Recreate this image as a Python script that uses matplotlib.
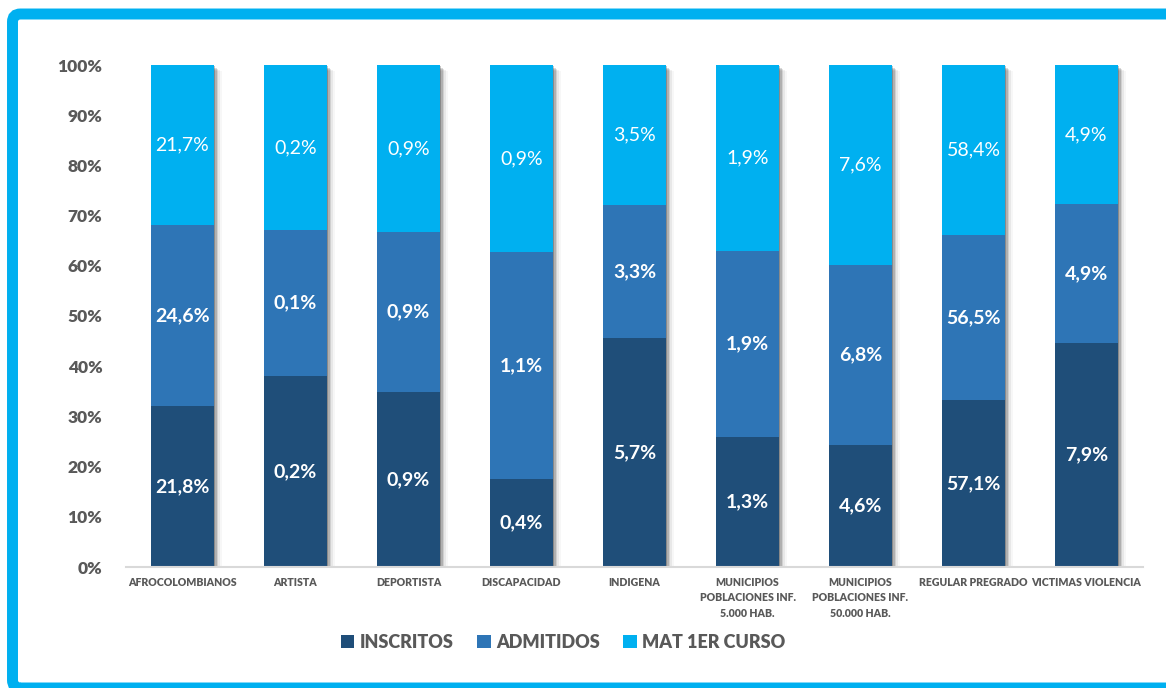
import matplotlib.pyplot as plt
from matplotlib.patches import FancyBboxPatch, Patch

# categories and values
categorias = ["AFROCOLOMBIANOS", "ARTISTA", "DEPORTISTA", "DISCAPACIDAD", "INDIGENA",
              "MUNICIPIOS\nPOBLACIONES INF.\n5.000 HAB.",
              "MUNICIPIOS\nPOBLACIONES INF.\n50.000 HAB.",
              "REGULAR PREGRADO", "VICTIMAS VIOLENCIA"]

# share of each bar (percent of the 100% stack)
inscritos = [32.1, 38.0, 34.9, 17.5, 45.6, 25.9, 24.3, 33.3, 44.6]
admitidos = [36.0, 29.1, 31.8, 45.2, 26.5, 37.0, 35.9, 32.8, 27.7]
mat1 = [31.9, 32.9, 33.3, 37.3, 27.9, 37.1, 39.8, 33.9, 27.7]

# labels printed inside the segments
lbl_inscritos = [21.8, 0.2, 0.9, 0.4, 5.7, 1.3, 4.6, 57.1, 7.9]
lbl_admitidos = [24.6, 0.1, 0.9, 1.1, 3.3, 1.9, 6.8, 56.5, 4.9]
lbl_mat1 = [21.7, 0.2, 0.9, 0.9, 3.5, 1.9, 7.6, 58.4, 4.9]

series = ["INSCRITOS", "ADMITIDOS", "MAT 1ER CURSO"]
colores = ["#1F4E79", "#2E75B6", "#00B0F0"]
gris = "#595959"

plt.rcParams['font.family'] = ['Lato', 'DejaVu Sans']

fig = plt.figure(figsize=(11.66, 6.88), dpi=100)
ax = fig.add_axes([126 / 1166, 1 - 567 / 688, (1143 - 126) / 1166, (567 - 65) / 688])

x = list(range(len(categorias)))
ancho = 0.55
totales = [a + b + c for a, b, c in zip(inscritos, admitidos, mat1)]

# soft drop shadow
for k, alpha in [(1, 0.22), (2, 0.15), (3, 0.1), (4, 0.06), (5, 0.03)]:
    dx = k * 1.6 / 113
    ax.bar([i + dx for i in x], totales, width=ancho, bottom=-k * 0.25,
           color="#000000", alpha=alpha, linewidth=0, zorder=1)

base2 = inscritos
base3 = [a + b for a, b in zip(inscritos, admitidos)]
ax.bar(x, inscritos, width=ancho, color=colores[0], zorder=2)
ax.bar(x, admitidos, width=ancho, bottom=base2, color=colores[1], zorder=2)
ax.bar(x, mat1, width=ancho, bottom=base3, color=colores[2], zorder=2)


def fmt(v):
    return f"{v:.1f}".replace(".", ",") + "%"


for i in x:
    ax.text(i, inscritos[i] / 2, fmt(lbl_inscritos[i]), ha="center", va="center",
            color="white", fontsize=14, fontweight="bold", zorder=3)
    ax.text(i, base2[i] + admitidos[i] / 2, fmt(lbl_admitidos[i]), ha="center", va="center",
            color="white", fontsize=14, fontweight="bold", zorder=3)
    ax.text(i, base3[i] + mat1[i] / 2, fmt(lbl_mat1[i]), ha="center", va="center",
            color="white", fontsize=14, zorder=3)

ax.set_xlim(-0.5, len(categorias) - 0.5)
ax.set_ylim(0, 100)
ax.set_yticks(range(0, 101, 10))
ax.set_yticklabels([f"{v}%" for v in range(0, 101, 10)], fontsize=12.5,
                   fontweight="heavy", color=gris)
ax.set_xticks(x)
ax.set_xticklabels(categorias, fontsize=7.6, fontweight="heavy", color=gris, linespacing=1.5,
                   va="top")
ax.tick_params(axis="y", length=0, pad=17)
ax.tick_params(axis="x", length=0, pad=7)
for s in ["top", "right", "left"]:
    ax.spines[s].set_visible(False)
ax.spines["bottom"].set_color("#D9D9D9")
ax.spines["bottom"].set_linewidth(1.5)
ax.spines["bottom"].set_zorder(4)

handles = [Patch(facecolor=c, label=s) for c, s in zip(colores, series)]
leg = fig.legend(handles=handles, loc="center", bbox_to_anchor=(563 / 1166, 1 - 642 / 688),
                 ncol=3, frameon=False, handlelength=0.75, handleheight=0.75,
                 handletextpad=0.3, columnspacing=1.3,
                 prop={"size": 13, "weight": "heavy"})
for t in leg.get_texts():
    t.set_color(gris)

# cyan frame around the chart
marco = FancyBboxPatch((12.5, 0), 1170, 674, boxstyle="round,pad=0,rounding_size=8",
                       transform=None, facecolor="none", edgecolor="#00B0F0", linewidth=7.9)
fig.add_artist(marco)

fig.savefig("out.png", dpi=100)
